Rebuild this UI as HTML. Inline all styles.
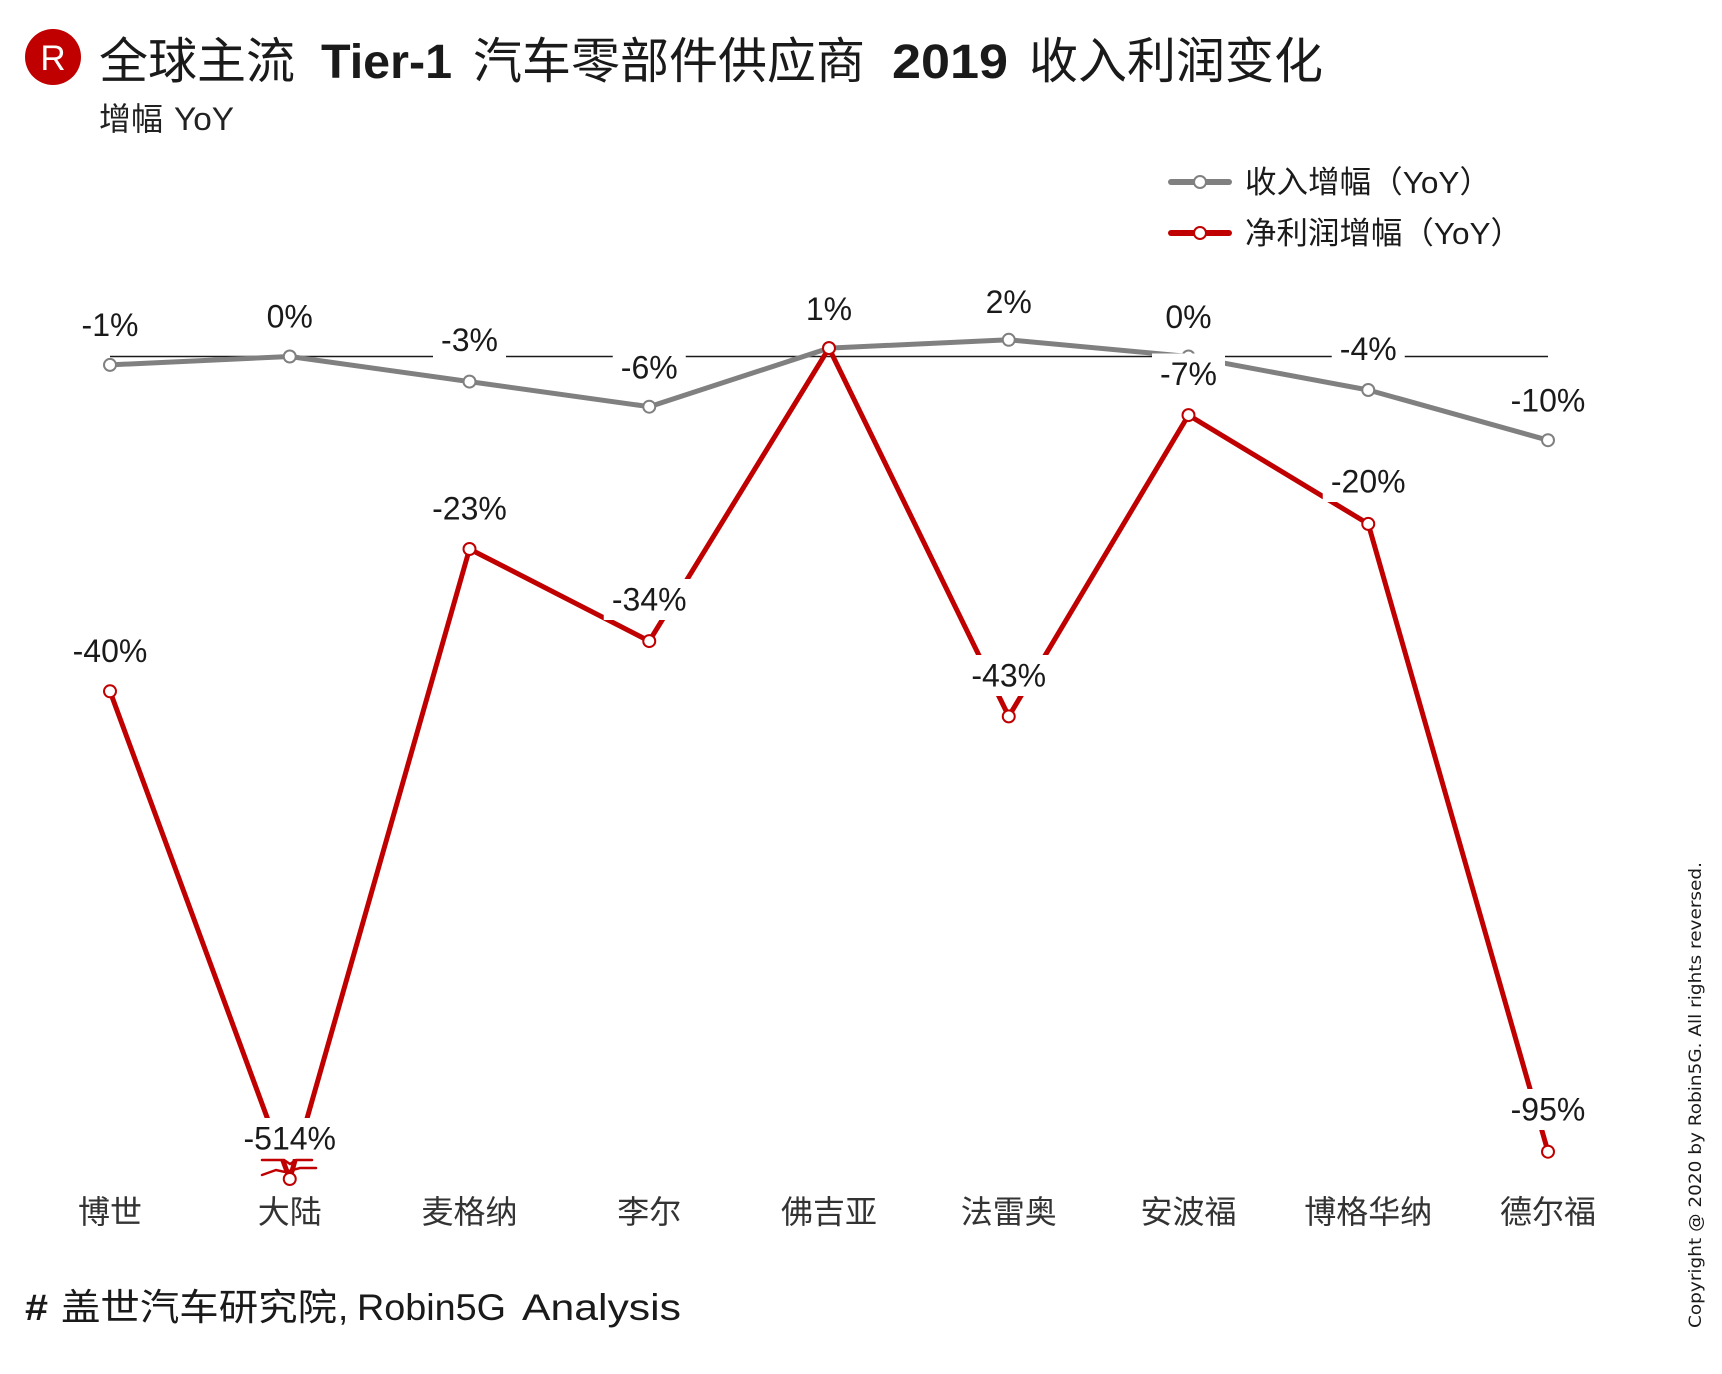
<!DOCTYPE html>
<html>
<head>
<meta charset="utf-8">
<style>
  html,body{margin:0;padding:0;background:#fff;}
  svg{display:block;}
  .cjk{font-family:"Liberation Sans","Noto Sans CJK SC",sans-serif;}
  .lab{font-family:"Liberation Sans","Noto Sans CJK SC",sans-serif;font-size:32px;fill:#1a1a1a;text-anchor:middle;}
  .cat{font-family:"Liberation Sans","Noto Sans CJK SC",sans-serif;font-size:32px;fill:#333;text-anchor:middle;}
</style>
</head>
<body>
<svg width="1722" height="1374" viewBox="0 0 1722 1374" xmlns="http://www.w3.org/2000/svg">
  <rect x="0" y="0" width="1722" height="1374" fill="#ffffff"/>

  <!-- Logo -->
  <circle cx="53" cy="57" r="28" fill="#C00000"/>
  <text x="53" y="70" font-family="Liberation Sans, sans-serif" font-size="35" fill="#ffffff" text-anchor="middle">R</text>

  <!-- Title -->
  <g class="cjk" fill="#1a1a1a">
    <text x="99" y="78" font-size="49">全球主流</text>
    <text x="321" y="78" font-size="48" font-weight="bold" textLength="131" lengthAdjust="spacingAndGlyphs">Tier-1</text>
    <text x="473" y="78" font-size="49">汽车零部件供应商</text>
    <text x="892" y="78" font-size="48" font-weight="bold" textLength="116" lengthAdjust="spacingAndGlyphs">2019</text>
    <text x="1029" y="78" font-size="49">收入利润变化</text>
  </g>
  <!-- Subtitle -->
  <g class="cjk" fill="#222">
    <text x="99" y="130" font-size="32">增幅</text>
    <text x="174" y="130" font-size="32" textLength="60" lengthAdjust="spacingAndGlyphs">YoY</text>
  </g>

  <!-- Legend -->
  <line x1="1171" y1="182" x2="1229" y2="182" stroke="#808080" stroke-width="6" stroke-linecap="round"/>
  <circle cx="1200" cy="182" r="6" fill="#fff" stroke="#808080" stroke-width="2"/>
  <text class="cjk" x="1245" y="193" font-size="31" fill="#1a1a1a" textLength="246" lengthAdjust="spacingAndGlyphs">收入增幅（YoY）</text>
  <line x1="1171" y1="233" x2="1229" y2="233" stroke="#C00000" stroke-width="6" stroke-linecap="round"/>
  <circle cx="1200" cy="233" r="6" fill="#fff" stroke="#C00000" stroke-width="2"/>
  <text class="cjk" x="1245" y="244" font-size="31" fill="#1a1a1a" textLength="277" lengthAdjust="spacingAndGlyphs">净利润增幅（YoY）</text>

  <!-- Zero line -->
  <line x1="110" y1="356.5" x2="1548" y2="356.5" stroke="#1a1a1a" stroke-width="1.6"/>

  <!-- Revenue series -->
  <polyline fill="none" stroke="#808080" stroke-width="5" stroke-linejoin="round" stroke-linecap="round"
    points="110,364.9 289.75,356.5 469.5,381.6 649.25,406.7 829,348.1 1008.75,339.8 1188.5,356.5 1368.25,390 1548,440.2"/>
  <g fill="#fff" stroke="#808080" stroke-width="2">
    <circle cx="110" cy="364.9" r="6"/>
    <circle cx="289.75" cy="356.5" r="6"/>
    <circle cx="469.5" cy="381.6" r="6"/>
    <circle cx="649.25" cy="406.7" r="6"/>
    <circle cx="829" cy="348.1" r="6"/>
    <circle cx="1008.75" cy="339.8" r="6"/>
    <circle cx="1188.5" cy="356.5" r="6"/>
    <circle cx="1368.25" cy="390" r="6"/>
    <circle cx="1548" cy="440.2" r="6"/>
  </g>

  <!-- Profit series -->
  <polyline fill="none" stroke="#C00000" stroke-width="5" stroke-linejoin="round" stroke-linecap="round"
    points="110,691.3 289.75,1179 469.5,549 649.25,641.1 829,348.1 1008.75,716.4 1188.5,415.1 1368.25,523.9 1548,1151.7"/>
  <g fill="#fff" stroke="#C00000" stroke-width="2">
    <circle cx="110" cy="691.3" r="6"/>
    <circle cx="469.5" cy="549" r="6"/>
    <circle cx="649.25" cy="641.1" r="6"/>
    <circle cx="829" cy="348.1" r="6"/>
    <circle cx="1008.75" cy="716.4" r="6"/>
    <circle cx="1188.5" cy="415.1" r="6"/>
    <circle cx="1368.25" cy="523.9" r="6"/>
    <circle cx="1548" cy="1151.7" r="6"/>
  </g>

  <!-- Label boxes (white) -->
  <g fill="#ffffff">
    <rect x="73.5" y="304.5" width="73" height="41"/>
    <rect x="258.75" y="296" width="62" height="41"/>
    <rect x="433" y="319.5" width="73" height="41"/>
    <rect x="612.75" y="347" width="73" height="41"/>
    <rect x="798" y="288.5" width="62" height="41"/>
    <rect x="977.75" y="281.5" width="62" height="41"/>
    <rect x="1157.5" y="296.5" width="62" height="41"/>
    <rect x="1331.75" y="328.5" width="73" height="41"/>
    <rect x="1502.5" y="380" width="91" height="41"/>
    <rect x="64.5" y="630.5" width="91" height="41"/>
    <rect x="235.75" y="1118" width="108" height="41"/>
    <rect x="424" y="488" width="91" height="41"/>
    <rect x="603.75" y="579" width="91" height="41"/>
    <rect x="963.25" y="655" width="91" height="41"/>
    <rect x="1152" y="353.5" width="73" height="41"/>
    <rect x="1322.75" y="461" width="91" height="41"/>
    <rect x="1502.5" y="1089" width="91" height="41"/>
  </g>

  <!-- Break marker near -514% -->
  <g fill="none" stroke="#C00000" stroke-width="2.5" stroke-linecap="round">
    <path d="M262,1160 L284,1160 L290,1164 L296,1160 L312,1160"/>
    <path d="M262,1175 L276,1170 L285,1172 L300,1168 L316,1168"/>
  </g>
  <circle cx="289.75" cy="1179" r="6" fill="#fff" stroke="#C00000" stroke-width="2"/>

  <!-- Revenue labels -->
  <text class="lab" x="110" y="336">-1%</text>
  <text class="lab" x="289.75" y="327.5">0%</text>
  <text class="lab" x="469.5" y="351">-3%</text>
  <text class="lab" x="649.25" y="378.5">-6%</text>
  <text class="lab" x="829" y="320">1%</text>
  <text class="lab" x="1008.75" y="313">2%</text>
  <text class="lab" x="1188.5" y="328">0%</text>
  <text class="lab" x="1368.25" y="360">-4%</text>
  <text class="lab" x="1548" y="411.5">-10%</text>

  <!-- Profit labels -->
  <text class="lab" x="110" y="662">-40%</text>
  <text class="lab" x="289.75" y="1149.5">-514%</text>
  <text class="lab" x="469.5" y="519.5">-23%</text>
  <text class="lab" x="649.25" y="610.5">-34%</text>
  <text class="lab" x="1008.75" y="686.5">-43%</text>
  <text class="lab" x="1188.5" y="385">-7%</text>
  <text class="lab" x="1368.25" y="492.5">-20%</text>
  <text class="lab" x="1548" y="1120.5">-95%</text>

  <!-- Category labels -->
  <text class="cat" x="110" y="1223">博世</text>
  <text class="cat" x="289.75" y="1223">大陆</text>
  <text class="cat" x="469.5" y="1223">麦格纳</text>
  <text class="cat" x="649.25" y="1223">李尔</text>
  <text class="cat" x="829" y="1223">佛吉亚</text>
  <text class="cat" x="1008.75" y="1223">法雷奥</text>
  <text class="cat" x="1188.5" y="1223">安波福</text>
  <text class="cat" x="1368.25" y="1223">博格华纳</text>
  <text class="cat" x="1548" y="1223">德尔福</text>

  <!-- Source -->
  <g class="cjk" fill="#1a1a1a">
    <text x="25" y="1320" font-size="37" font-weight="bold" textLength="23" lengthAdjust="spacingAndGlyphs">#</text>
    <text x="61" y="1320" font-size="37" textLength="276" lengthAdjust="spacingAndGlyphs">盖世汽车研究院</text>
    <text x="338" y="1320" font-size="37">,</text>
    <text x="357" y="1320" font-size="37" textLength="149" lengthAdjust="spacingAndGlyphs">Robin5G</text>
    <text x="522" y="1320" font-size="37" textLength="159" lengthAdjust="spacingAndGlyphs">Analysis</text>
  </g>

  <!-- Copyright (vertical) -->
  <text transform="translate(1701,1328) rotate(-90)" x="0" y="0" font-family="DejaVu Sans, sans-serif" font-size="17" fill="#1a1a1a" textLength="466" lengthAdjust="spacingAndGlyphs">Copyright @ 2020 by Robin5G. All rights reversed.</text>
</svg>
</body>
</html>
